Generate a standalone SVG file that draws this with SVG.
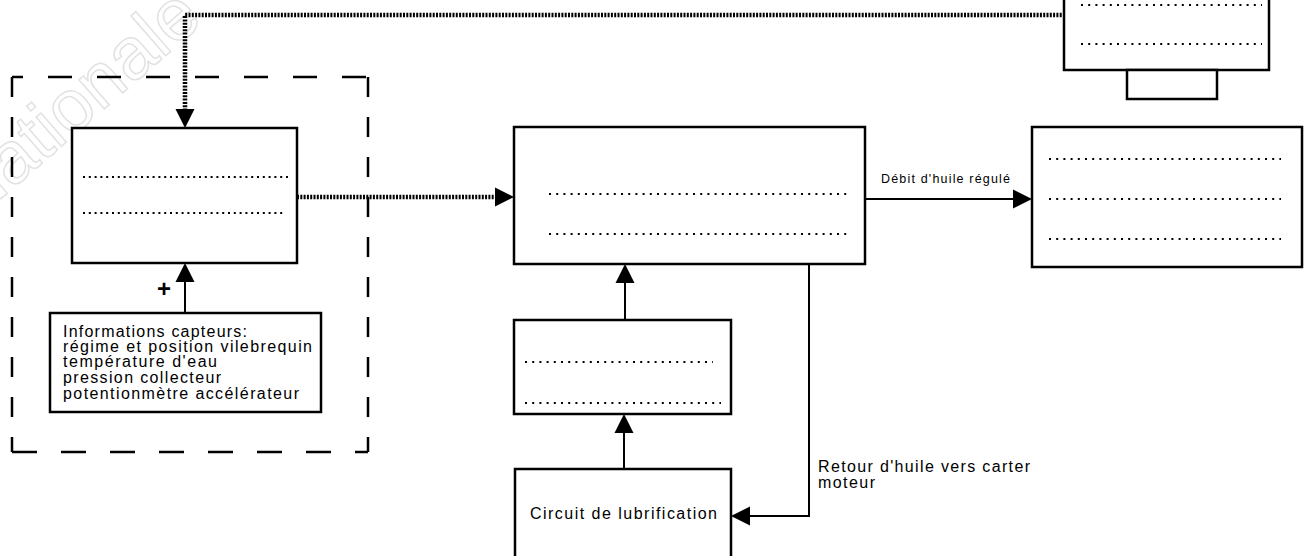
<svg xmlns="http://www.w3.org/2000/svg" width="1306" height="556" viewBox="0 0 1306 556">
<style>
.box{fill:#fff;stroke:#000;stroke-width:2.5}
.dash{fill:none;stroke:#000;stroke-width:2.5}
.dashh{stroke-dasharray:24 25}
.dashv{stroke-dasharray:20 20}
.dots{fill:none;stroke:#000;stroke-width:2;stroke-dasharray:2 5.2}
.dotsA{stroke-dasharray:2 3.8}
.solid{fill:none;stroke:#000;stroke-width:2;marker-end:url(#arr)}
.thick{fill:none;stroke:#000;stroke-width:4.5;stroke-dasharray:2 1.3;marker-end:url(#arr)}
.t{font-family:"Liberation Sans",Arial,sans-serif;fill:#000}
.wm{font-family:"Liberation Sans",Arial,sans-serif;font-size:73px;fill:none;stroke:#e2e2e2;stroke-width:1.5}
</style>
<defs>
<marker id="arr" markerUnits="userSpaceOnUse" markerWidth="20" markerHeight="20" refX="0" refY="9.5" orient="auto" overflow="visible">
<path d="M0,0 L19,9.5 L0,19 z" fill="#000" stroke="none"/>
</marker>
</defs>
<rect width="1306" height="556" fill="#fff"/>
<text class="wm" transform="translate(-28,224) rotate(-41)">Nationale</text>

<g id="dashed-frame">
<line class="dash dashh" x1="12" y1="77" x2="368" y2="77" stroke-dashoffset="13"/>
<line class="dash dashh" x1="12" y1="452" x2="368" y2="452" style="stroke-dasharray:25 24"/>
<line class="dash dashv" x1="12" y1="77" x2="12" y2="452"/>
<line class="dash dashv" x1="368" y1="77" x2="368" y2="452"/>
</g>

<g id="connectors">
<path class="thick" d="M1065,15 H185 V109"/>
<path class="thick" d="M297,197 H495"/>
<path class="solid" d="M865,199 H1013"/>
<path class="solid" d="M625,320 V283"/>
<path class="solid" d="M624,469 V433"/>
<path class="solid" d="M809,265 V516 H750"/>
<path class="solid" d="M185,313 V282"/>
<text class="t" x="164" y="297" font-size="24" font-weight="bold" text-anchor="middle">+</text>
<text class="t" x="881" y="183" font-size="12.5" textLength="129" lengthAdjust="spacing">Débit d'huile régulé</text>
<text class="t" x="818" y="472" font-size="16" textLength="212" lengthAdjust="spacing">Retour d'huile vers carter</text>
<text class="t" x="818" y="488" font-size="16" textLength="57" lengthAdjust="spacing">moteur</text>
</g>

<g id="node-top-right">
<rect class="box" x="1064" y="-3" width="205" height="73"/>
<line class="dots" x1="1081" y1="5" x2="1262" y2="5"/>
<line class="dots" x1="1081" y1="44" x2="1262" y2="44"/>
</g>
<g id="node-top-right-foot">
<rect class="box" x="1127" y="70" width="90" height="29"/>
</g>

<g id="node-A">
<rect class="box" x="72" y="128" width="225" height="135"/>
<line class="dots dotsA" x1="83" y1="177" x2="289" y2="177"/>
<line class="dots dotsA" x1="83" y1="213" x2="283" y2="213"/>
</g>

<g id="node-sensors">
<rect class="box" x="50" y="313" width="271" height="99"/>
<text class="t" font-size="16">
<tspan x="63" y="337" textLength="184" lengthAdjust="spacing">Informations capteurs:</tspan>
<tspan x="63" y="352" textLength="249" lengthAdjust="spacing">régime et position vilebrequin</tspan>
<tspan x="63" y="367" textLength="154" lengthAdjust="spacing">température d'eau</tspan>
<tspan x="63" y="383" textLength="158" lengthAdjust="spacing">pression collecteur</tspan>
<tspan x="63" y="399" textLength="236" lengthAdjust="spacing">potentionmètre accélérateur</tspan>
</text>
</g>

<g id="node-B">
<rect class="box" x="514" y="127" width="351" height="137"/>
<line class="dots" x1="549" y1="194" x2="847" y2="194"/>
<line class="dots" x1="549" y1="234" x2="847" y2="234"/>
</g>

<g id="node-C">
<rect class="box" x="1032" y="127" width="270" height="140"/>
<line class="dots" x1="1049" y1="159" x2="1281" y2="159"/>
<line class="dots" x1="1049" y1="199" x2="1281" y2="199"/>
<line class="dots" x1="1049" y1="239" x2="1281" y2="239"/>
</g>

<g id="node-D">
<rect class="box" x="514" y="320" width="217" height="94"/>
<line class="dots" x1="525" y1="362" x2="713" y2="362"/>
<line class="dots" x1="525" y1="403" x2="721" y2="403"/>
</g>

<g id="node-E">
<rect class="box" x="515" y="469" width="216" height="100"/>
<text class="t" x="530" y="519" font-size="16" textLength="187" lengthAdjust="spacing">Circuit de lubrification</text>
</g>
</svg>
